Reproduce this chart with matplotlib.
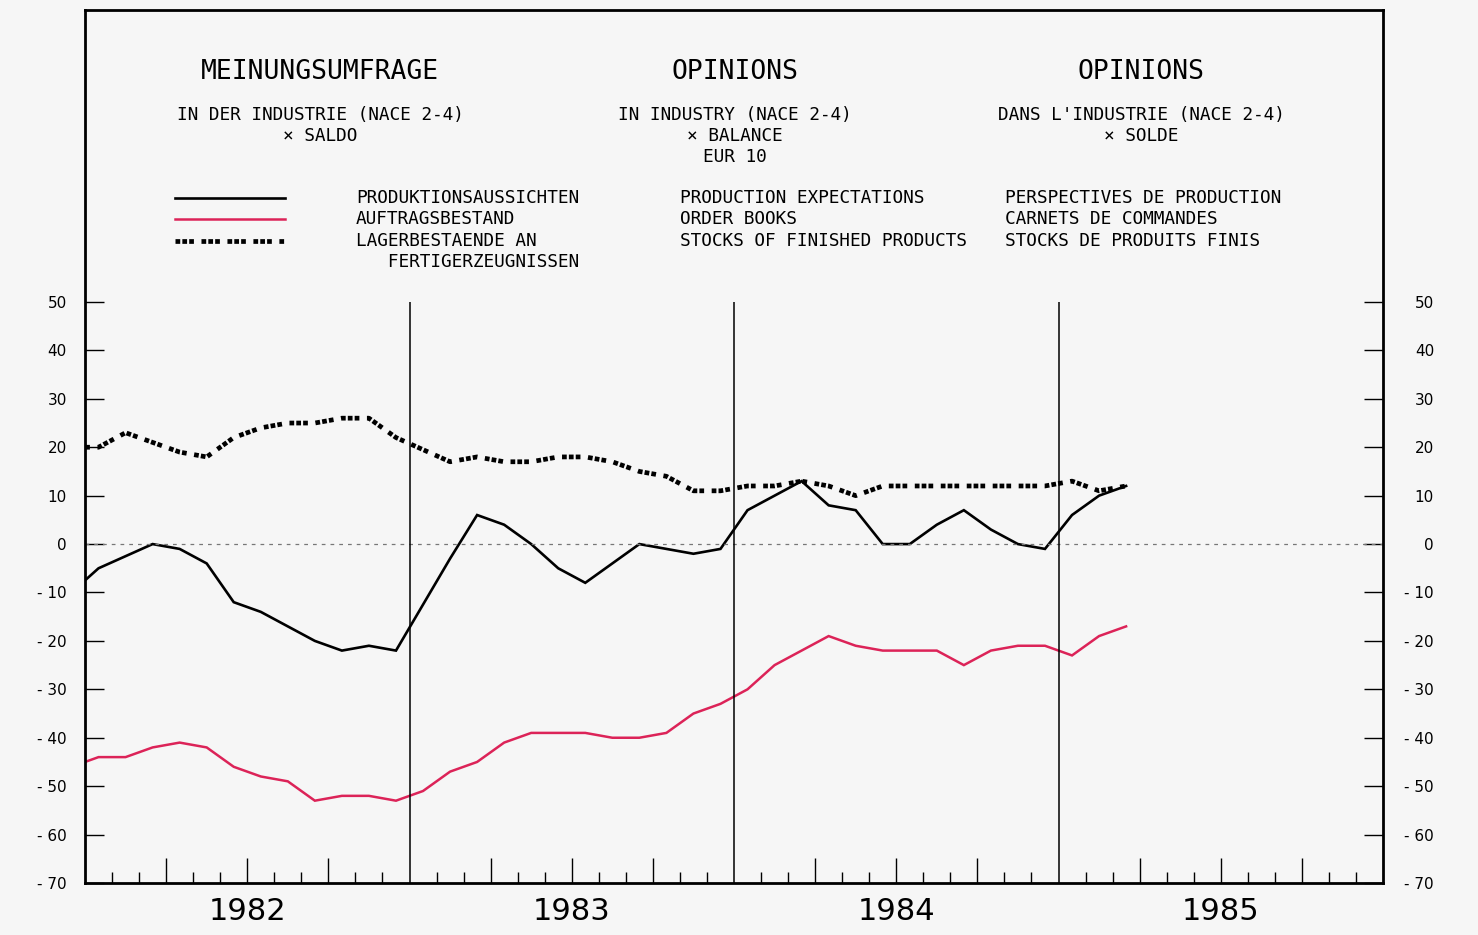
import matplotlib
matplotlib.use("Agg")
import matplotlib.pyplot as plt
import matplotlib.transforms as mtrans
from matplotlib.lines import Line2D

# ---------------------------------------------------------------------------
# data: monthly balances, Dec 1981 .. Mar 1985 (plotted at mid-month)
# ---------------------------------------------------------------------------
months = [(1981, 12)] + [(y, m) for y in (1982, 1983, 1984) for m in range(1, 13)] + \
         [(1985, 1), (1985, 2), (1985, 3)]

production = [-10,
              -5, -2.5, 0, -1, -4, -12, -14, -17, -20, -22, -21, -22,
              -12.5, -3, 6, 4, 0, -5, -8, -4, 0, -1, -2, -1,
              7, 10, 13, 8, 7, 0, 0, 4, 7, 3, 0, -1,
              6, 10, 12]
orders = [-46,
          -44, -44, -42, -41, -42, -46, -48, -49, -53, -52, -52, -53,
          -51, -47, -45, -41, -39, -39, -39, -40, -40, -39, -35, -33,
          -30, -25, -22, -19, -21, -22, -22, -22, -25, -22, -21, -21,
          -23, -19, -17]
stocks = [20,
          20, 23, 21, 19, 18, 22, 24, 25, 25, 26, 26, 22,
          19.5, 17, 18, 17, 17, 18, 18, 17, 15, 14, 11, 11,
          12, 12, 13, 12, 10, 12, 12, 12, 12, 12, 12, 12,
          13, 11, 12]

years = [1982, 1983, 1984, 1985]
yticks = [50, 40, 30, 20, 10, 0, -10, -20, -30, -40, -50, -60, -70]

titles = ["MEINUNGSUMFRAGE", "OPINIONS", "OPINIONS"]
subtitles = ["IN DER INDUSTRIE (NACE 2-4)\n× SALDO",
             "IN INDUSTRY (NACE 2-4)\n× BALANCE\nEUR 10",
             "DANS L'INDUSTRIE (NACE 2-4)\n× SOLDE"]
labels_de = ["PRODUKTIONSAUSSICHTEN", "AUFTRAGSBESTAND",
             "LAGERBESTAENDE AN\n   FERTIGERZEUGNISSEN"]
labels_en = ["PRODUCTION EXPECTATIONS", "ORDER BOOKS",
             "STOCKS OF FINISHED PRODUCTS"]
labels_fr = ["PERSPECTIVES DE PRODUCTION", "CARNETS DE COMMANDES",
             "STOCKS DE PRODUITS FINIS"]

x = [(y - 1982) * 12 + (m - 1) + 0.5 for y, m in months]

MONO = "DejaVu Sans Mono"
BG = "#f6f6f6"
RED = "#dc2358"

fig = plt.figure(figsize=(14.78, 9.35), dpi=100, facecolor=BG)
ax = fig.add_axes([85 / 1478, 1 - 883 / 935, 1298 / 1478, 873 / 935])
ax.set_facecolor(BG)

# the frame also holds the header, so the value axis extends above 50
ymin, ymax = -70, 50 + (302 - 10) / 4.842
ax.set_xlim(0, 48)
ax.set_ylim(ymin, ymax)

styles = [
    dict(color="black", lw=1.9),
    dict(color=RED, lw=1.8),
    dict(color="black", lw=3.4, dashes=(1.0, 0.45, 1.0, 0.45, 1.0, 1.6)),
]
for series, st in zip([production, orders, stocks], styles):
    ax.plot(x, series, solid_joinstyle="miter", **st)

# zero line and year separators
ax.axhline(0, color="#777777", lw=0.9, dashes=(3, 4))
for i in range(1, len(years)):
    ax.vlines(i * 12, ymin, 50, color="black", lw=1.1)

for s in ax.spines.values():
    s.set_linewidth(2.0)

# y ticks on both sides, inward, labels right-aligned on both sides
ax.set_yticks(yticks)
ax.set_yticklabels([str(v) if v >= 0 else "- %d" % -v for v in yticks])
ax.tick_params(axis="y", direction="in", length=14, width=1.0,
               left=True, right=True, labelleft=True, labelright=True,
               labelsize=11, pad=13)
offset = mtrans.ScaledTranslation(33 / 100, 0, fig.dpi_scale_trans)
for t in ax.yaxis.get_major_ticks():
    t.label2.set_horizontalalignment("right")
    t.label2.set_transform(t.label2.get_transform() + offset)

# x ticks: months short, quarters long, year labels beneath
ax.set_xticks([q for q in range(3, 48, 3) if q % 12])
ax.set_xticks([mo for mo in range(1, 48) if mo % 3], minor=True)
ax.tick_params(axis="x", which="major", direction="in", length=18, width=1.0,
               labelbottom=False)
ax.tick_params(axis="x", which="minor", direction="in", length=8, width=1.0)

sec = ax.secondary_xaxis("bottom")
sec.set_xticks([i * 12 + 6 for i in range(len(years))])
sec.set_xticklabels([str(y) for y in years], fontsize=22)
sec.tick_params(length=0, pad=10)
sec.spines["bottom"].set_visible(False)


# header texts (pixel positions converted to axes fractions)
def fx(px):
    return (px - 85) / 1298


def fy(py):
    return (883 - py) / 873


for cx, t, sub in zip([320, 735, 1141], titles, subtitles):
    ax.text(fx(cx), fy(72), t, transform=ax.transAxes, ha="center", va="center",
            fontsize=19, fontfamily=MONO)
    ax.text(fx(cx), fy(106), sub, transform=ax.transAxes, ha="center", va="top",
            fontsize=12.8, fontfamily=MONO, linespacing=1.2)

rows = [198, 219, 241]
for py, st in zip(rows, styles):
    ax.add_line(Line2D([fx(175), fx(285)], [fy(py), fy(py)],
                       transform=ax.transAxes, **st))

for lx, labs in [(356, labels_de), (680, labels_en), (1005, labels_fr)]:
    for py, lab in zip(rows, labs):
        ax.text(fx(lx), fy(py - 9), lab, transform=ax.transAxes, ha="left",
                va="top", fontsize=12.8, fontfamily=MONO, linespacing=1.2)

fig.savefig("out.png", dpi=100, facecolor=BG)
